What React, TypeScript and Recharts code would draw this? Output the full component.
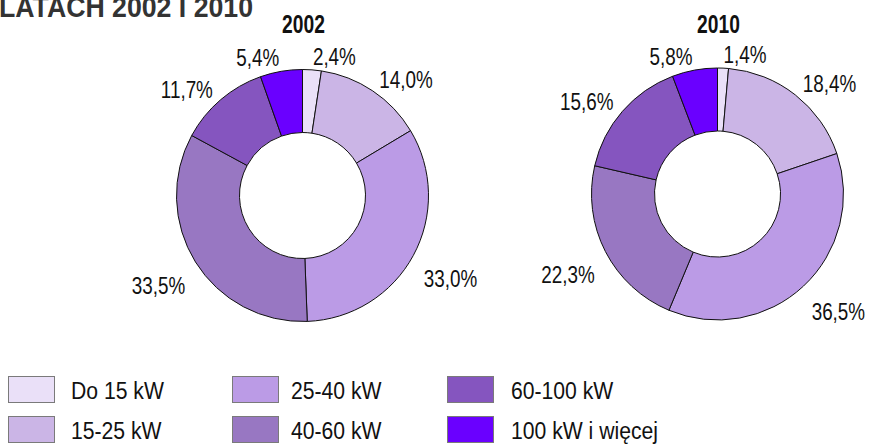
import React from 'react';
import { PieChart, Pie, Cell, Legend } from 'recharts';

const categories = ['Do 15 kW', '15-25 kW', '25-40 kW', '40-60 kW', '60-100 kW', '100 kW i więcej'];
const values2002 = [2.4, 14.0, 33.0, 33.5, 11.7, 5.4];
const values2010 = [1.4, 18.4, 36.5, 22.3, 15.6, 5.8];
const years = ['2002', '2010'];
const titleText = 'LATACH 2002 I 2010';
const colors = ['#EAE0F8', '#CBB5E6', '#BB9BE6', '#9877C2', '#8555BF', '#6A00FF'];

const W = 873;
const H = 445;
const FONT = "'Liberation Sans', Arial, sans-serif";

const data2002 = categories.map((name, i) => ({ name, value: values2002[i] }));
const data2010 = categories.map((name, i) => ({ name, value: values2010[i] }));

const fmt = (v: number) => v.toFixed(1).replace('.', ',') + '%';

const LABEL_SIZE = 23;
const LABEL_SX = 0.82;

const renderLabel = (props: any) => {
  const { cx, cy, midAngle, outerRadius, value } = props;
  const txt = fmt(Number(value));
  const rad = (-midAngle * Math.PI) / 180;
  const ux = Math.cos(rad);
  const uy = Math.sin(rad);
  const r = outerRadius + 12;
  const px = cx + r * ux;
  const py = cy + r * uy + 9;
  const baseline = uy < 0 ? py - 2 : py + 16.5;
  return (
    <text
      transform={`translate(${px},${baseline}) scale(${LABEL_SX},1)`}
      x={0}
      y={0}
      textAnchor={ux >= 0 ? 'start' : 'end'}
      fontFamily={FONT}
      fontSize={LABEL_SIZE}
      fill="#111"
    >
      {txt}
    </text>
  );
};

const legendCols = [
  { swX: 8, txtX: 71 },
  { swX: 232, txtX: 291 },
  { swX: 447, txtX: 511 },
];
const legendRows = [{ swY: 376, base: 399 }, { swY: 416, base: 439 }];

const renderLegend = () => (
  <div style={{ position: 'relative', width: 0, height: 0 }}>
    {categories.map((name, i) => {
      const col = legendCols[Math.floor(i / 2)];
      const row = legendRows[i % 2];
      return (
        <React.Fragment key={name}>
          <div
            style={{
              position: 'absolute',
              left: col.swX,
              top: row.swY,
              width: 47,
              height: 27,
              background: colors[i],
              border: '1px solid #7a7a7a',
              boxSizing: 'border-box',
            }}
          />
          <div
            style={{
              position: 'absolute',
              left: col.txtX,
              top: row.base - 0.8465 * 23,
              fontFamily: FONT,
              fontSize: 23,
              lineHeight: '23px',
              whiteSpace: 'nowrap',
              color: '#111',
              transform: 'scaleX(0.92)',
              transformOrigin: 'left top',
            }}
          >
            {name}
          </div>
        </React.Fragment>
      );
    })}
  </div>
);

export default function App() {
  return (
    <div style={{ position: 'absolute', left: 0, top: 0, width: W, height: H, background: '#fff', overflow: 'hidden' }}>
      <PieChart width={W} height={H} margin={{ top: 0, right: 0, bottom: 0, left: 0 }}>
        <Pie
          data={data2002}
          dataKey="value"
          nameKey="name"
          cx={302.5}
          cy={195.5}
          innerRadius={63}
          outerRadius={126}
          startAngle={90}
          endAngle={-270}
          stroke="#111"
          strokeWidth={1}
          label={renderLabel}
          labelLine={false}
          isAnimationActive={false}
        >
          {data2002.map((d, i) => (
            <Cell key={d.name} fill={colors[i]} />
          ))}
        </Pie>
        <Pie
          data={data2010}
          dataKey="value"
          nameKey="name"
          cx={717.5}
          cy={194}
          innerRadius={63}
          outerRadius={126}
          startAngle={90}
          endAngle={-270}
          stroke="#111"
          strokeWidth={1}
          label={renderLabel}
          labelLine={false}
          isAnimationActive={false}
        >
          {data2010.map((d, i) => (
            <Cell key={d.name} fill={colors[i]} />
          ))}
        </Pie>
        <Legend
          content={renderLegend}
          wrapperStyle={{ position: 'absolute', left: 0, top: 0, width: 0, height: 0, overflow: 'visible' }}
        />
      </PieChart>
      <svg width={W} height={H} style={{ position: 'absolute', left: 0, top: 0, pointerEvents: 'none' }}>
        <text
          transform="translate(-1,17) scale(0.89,1)"
          fontFamily={FONT}
          fontWeight="bold"
          fontSize={30}
          fill="#333"
        >
          {titleText}
        </text>
        {years.map((y, i) => (
          <text
            key={y}
            transform={`translate(${i === 0 ? 303.5 : 718.5},33) scale(0.74,1)`}
            textAnchor="middle"
            fontFamily={FONT}
            fontWeight="bold"
            fontSize={26}
            fill="#111"
          >
            {y}
          </text>
        ))}
      </svg>
    </div>
  );
}
